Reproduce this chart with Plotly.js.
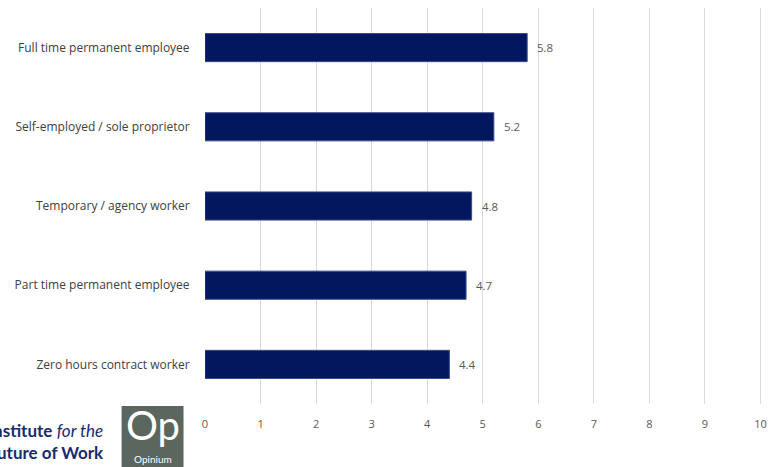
<!DOCTYPE html>
<html><head><meta charset="utf-8">
<script src="https://cdn.plot.ly/plotly-3.0.1.min.js"></script>
<style>html,body{margin:0;padding:0;background:#fff}#c{width:771px;height:467px}</style>
</head><body><div id="c"></div>
<script>
const categories = ["Full time permanent employee","Self-employed / sole proprietor","Temporary / agency worker","Part time permanent employee","Zero hours contract worker"];
const values = [5.8, 5.2, 4.8, 4.7, 4.4];
const tickVals = [0,1,2,3,4,5,6,7,8,9,10];

const trace = {
  type:'bar', orientation:'h', x: values, y: categories,
  marker:{color:'#03175e', line:{color:'#3a4a8a', width:1}},
  hoverinfo:'none'
};
const UNIT = 55.6, XMAX = 10.1;
const PW = UNIT * XMAX, PH = 396, L = 204.5, T = 8;
const px = x => (x - L) / PW;
const py = y => 1 - (y - T) / PH;
const valueLabels = values.map((v, i) => ({
  x: v, y: categories[i], xref:'x', yref:'y', xanchor:'left', yanchor:'middle', xshift:8, showarrow:false,
  text: v.toFixed(1), font:{family:'Open Sans, sans-serif', size:11.5, color:'#595959'}
}));
const layout = {
  width:771, height:467, margin:{l:L, r:771-L-PW, t:T, b:467-T-PH},
  paper_bgcolor:'#fff', plot_bgcolor:'#fff', showlegend:false, bargap:0.645,
  font:{family:'Open Sans, sans-serif', color:'#595959'},
  xaxis:{range:[0,XMAX], tickvals:tickVals, ticktext:tickVals.map(String), showgrid:true, gridcolor:'#d9d9d9', gridwidth:1,
         zeroline:false, showline:false, ticks:'outside', ticklen:10, tickcolor:'rgba(0,0,0,0)',
         tickfont:{family:'Open Sans, sans-serif', size:11, color:'#595959'}, fixedrange:true},
  yaxis:{autorange:'reversed', showgrid:false, zeroline:false, showline:false, ticks:'outside', ticklen:12, tickcolor:'rgba(0,0,0,0)',
         tickfont:{family:'Open Sans, sans-serif', size:12, color:'#404040'}, fixedrange:true},
  shapes:[{type:'rect', xref:'paper', yref:'paper', x0:px(121), x1:px(183), y0:py(467), y1:py(406),
           fillcolor:'#5a665e', line:{width:0}}],
  annotations:[
    {xref:'paper', yref:'paper', x:px(105), y:py(441), xanchor:'right', yanchor:'middle', align:'right', showarrow:false,
     text:'<b>Institute</b> <i>for the</i><br><b>Future of Work</b>', font:{family:'Lato, sans-serif', size:17, color:'#1b2a6b'}},
    {xref:'paper', yref:'paper', x:px(152), y:py(425), xanchor:'center', yanchor:'middle', showarrow:false,
     text:'Op', font:{family:'Lato, sans-serif', size:40, color:'#ffffff'}},
    {xref:'paper', yref:'paper', x:px(152), y:py(459), xanchor:'center', yanchor:'middle', showarrow:false,
     text:'Opinium', font:{family:'Lato, sans-serif', size:10, color:'#ffffff'}}
  ].concat(valueLabels)
};
Plotly.newPlot('c',[trace],layout,{displayModeBar:false,staticPlot:true});
</script></body></html>
